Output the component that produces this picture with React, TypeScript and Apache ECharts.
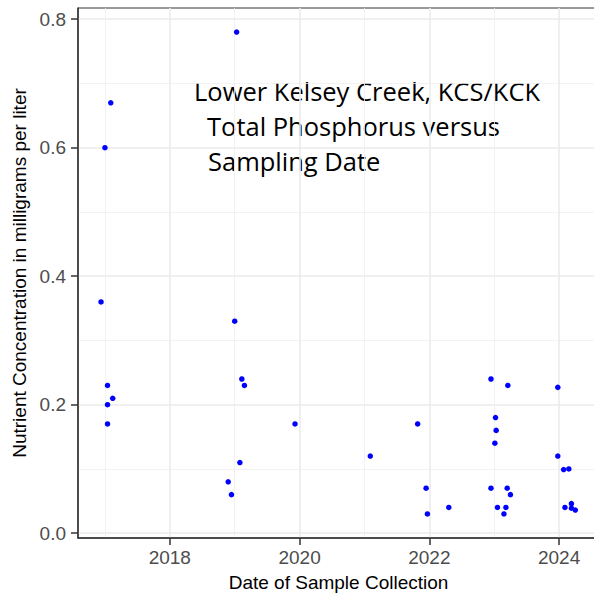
import React, { useEffect, useRef } from "react";
import * as echarts from "echarts";

// Decimal year of sample collection
const sampleYears: number[] = [
  2016.94, 2017.0, 2017.09, 2017.04, 2017.12, 2017.04, 2017.04,
  2018.9, 2018.95, 2019.0, 2019.03, 2019.08, 2019.11, 2019.15, 2019.93,
  2021.09, 2021.82, 2021.95, 2021.97, 2022.3,
  2022.95, 2022.95, 2023.01, 2023.02, 2023.03, 2023.05, 2023.15, 2023.18, 2023.2, 2023.21, 2023.25,
  2023.98, 2023.98, 2024.07, 2024.09, 2024.15, 2024.19, 2024.19, 2024.25,
];
// Total phosphorus, mg/L
const phosphorus: number[] = [
  0.36, 0.6, 0.67, 0.23, 0.21, 0.2, 0.17,
  0.08, 0.06, 0.33, 0.78, 0.11, 0.24, 0.23, 0.17,
  0.12, 0.17, 0.07, 0.03, 0.04,
  0.24, 0.07, 0.14, 0.18, 0.16, 0.04, 0.03, 0.04, 0.07, 0.23, 0.06,
  0.227, 0.12, 0.099, 0.04, 0.1, 0.046, 0.039, 0.036,
];

const xTicks: number[] = [2018, 2020, 2022, 2024];
const yTicks: number[] = [0, 0.2, 0.4, 0.6, 0.8];
const titleLines: string[] = [
  "Lower Kelsey Creek, KCS/KCK",
  "Total Phosphorus versus",
  "Sampling Date",
];

const AXIS_FONT = "'Liberation Sans', Arial, Helvetica, sans-serif";
const TITLE_FONT = "'Open Sans', sans-serif";

export default function App() {
  const ref = useRef<HTMLDivElement>(null);
  useEffect(() => {
    if (!ref.current) return;
    const chart = echarts.init(ref.current, undefined, { renderer: "svg" });
    const data = sampleYears.map((x, i) => [x, phosphorus[i]]);
    chart.setOption({
      animation: false,
      backgroundColor: "#ffffff",
      grid: {
        left: 78,
        top: 8,
        width: 521,
        height: 530,
        containLabel: false,
        outerBoundsMode: "none",
        show: true,
        borderColor: "#333333",
        borderWidth: 1,
        backgroundColor: "#ffffff",
      },
      xAxis: {
        type: "value",
        min: 2016.585,
        max: 2024.615,
        splitNumber: 4,
        name: "Date of Sample Collection",
        nameLocation: "middle",
        nameGap: 35,
        nameTextStyle: { color: "#000", fontSize: 19, fontFamily: AXIS_FONT },
        axisLine: { show: true, onZero: false, lineStyle: { color: "#333333", width: 1.5 } },
        axisTick: { show: true, length: 7, lineStyle: { color: "#333333", width: 1.5 }, customValues: xTicks },
        axisLabel: {
          customValues: xTicks,
          color: "#4D4D4D",
          fontSize: 19,
          fontFamily: AXIS_FONT,
          margin: 10,
          formatter: (v: number) => String(Math.round(v)),
        },
        splitLine: { show: true, lineStyle: { color: "#EBEBEB", width: 1.6 } },
        minorTick: { show: false, splitNumber: 2 },
        minorSplitLine: { show: true, lineStyle: { color: "#EFEFEF", width: 0.8 } },
      },
      yAxis: {
        type: "value",
        min: -0.0075,
        max: 0.8175,
        splitNumber: 5,
        name: "Nutrient Concentration in milligrams per liter",
        nameLocation: "middle",
        nameGap: 47,
        nameTextStyle: { color: "#000", fontSize: 19, fontFamily: AXIS_FONT },
        axisLine: { show: true, onZero: false, lineStyle: { color: "#333333", width: 1.5 } },
        axisTick: { show: true, length: 7, lineStyle: { color: "#333333", width: 1.5 }, customValues: yTicks },
        axisLabel: {
          customValues: yTicks,
          color: "#4D4D4D",
          fontSize: 19,
          fontFamily: AXIS_FONT,
          margin: 12,
          formatter: (v: number) => v.toFixed(1),
        },
        splitLine: { show: true, lineStyle: { color: "#EBEBEB", width: 1.6 } },
        minorTick: { show: false, splitNumber: 2 },
        minorSplitLine: { show: true, lineStyle: { color: "#EFEFEF", width: 0.8 } },
      },
      graphic: [
        { type: "text", left: 194, top: 78, style: { text: titleLines[0], fill: "#000", fontSize: 25.5, fontFamily: TITLE_FONT } },
        { type: "text", left: 207, top: 113, style: { text: titleLines[1], fill: "#000", fontSize: 25.5, fontFamily: TITLE_FONT } },
        { type: "text", left: 208, top: 148, style: { text: titleLines[2], fill: "#000", fontSize: 25.5, fontFamily: TITLE_FONT } },
      ],
      series: [
        {
          type: "scatter",
          data,
          symbol: "circle",
          symbolSize: 5.5,
          itemStyle: { color: "#0000FF", opacity: 1 },
        },
      ],
    });
    return () => chart.dispose();
  }, []);
  return (
    <div
      ref={ref}
      style={{ position: "fixed", left: 0, top: 0, width: 594, height: 599 }}
    />
  );
}
